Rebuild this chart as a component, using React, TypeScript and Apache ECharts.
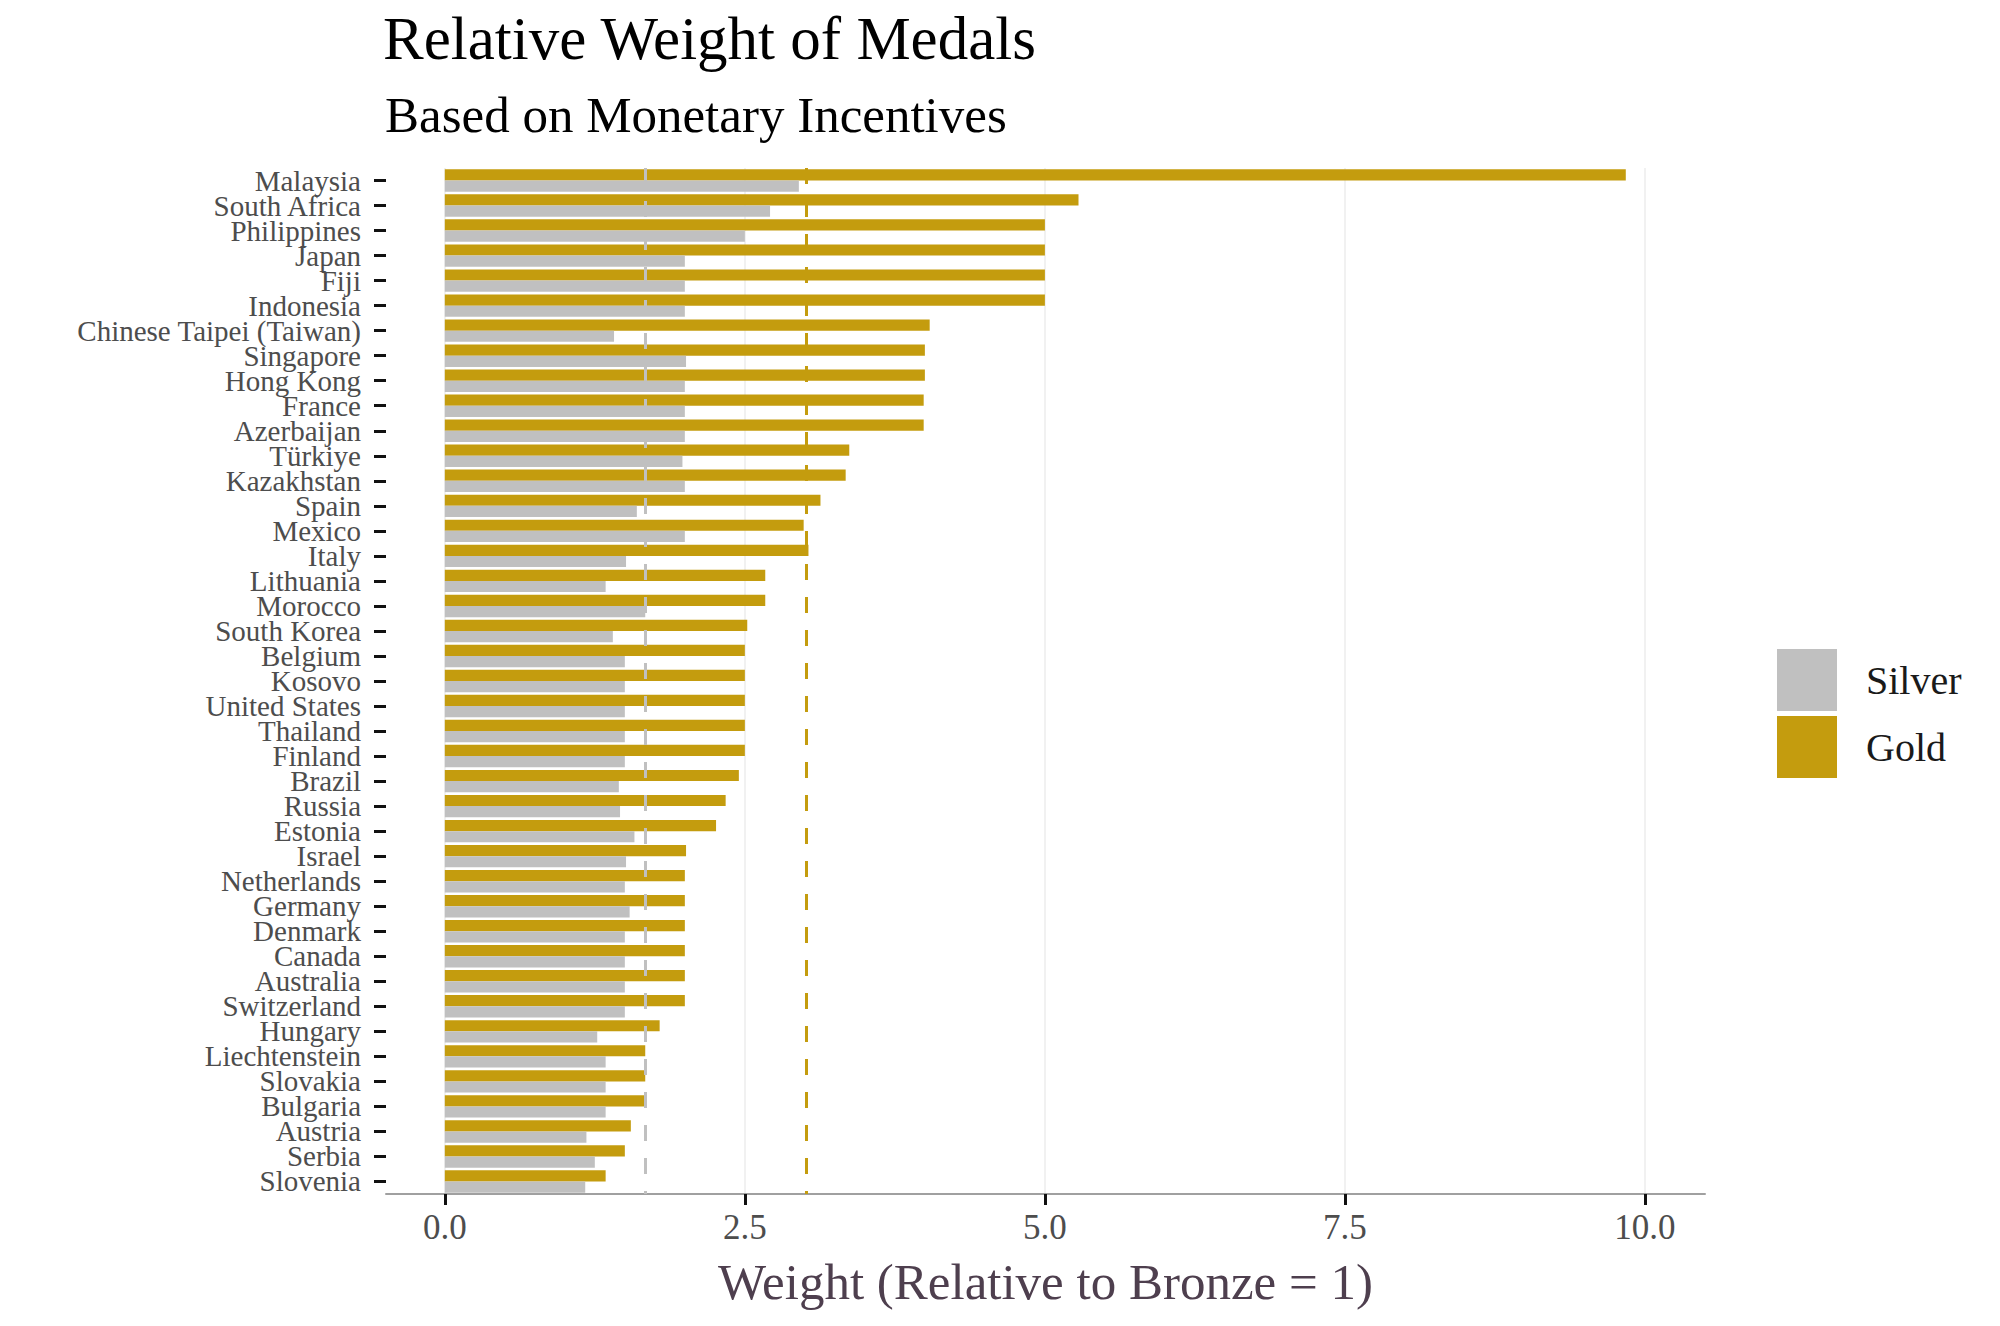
import React, { useEffect, useRef } from "react";
import * as echarts from "echarts";

const countries = [
  "Malaysia", "South Africa", "Philippines", "Japan", "Fiji", "Indonesia",
  "Chinese Taipei (Taiwan)", "Singapore", "Hong Kong", "France", "Azerbaijan",
  "Türkiye", "Kazakhstan", "Spain", "Mexico", "Italy", "Lithuania", "Morocco",
  "South Korea", "Belgium", "Kosovo", "United States", "Thailand", "Finland",
  "Brazil", "Russia", "Estonia", "Israel", "Netherlands", "Germany", "Denmark",
  "Canada", "Australia", "Switzerland", "Hungary", "Liechtenstein", "Slovakia",
  "Bulgaria", "Austria", "Serbia", "Slovenia",
];

const goldValues = [
  9.84, 5.28, 5.0, 5.0, 5.0, 5.0,
  4.04, 4.0, 4.0, 3.99, 3.99,
  3.37, 3.34, 3.13, 2.99, 3.03, 2.67, 2.67,
  2.52, 2.5, 2.5, 2.5, 2.5, 2.5,
  2.45, 2.34, 2.26, 2.01, 2.0, 2.0, 2.0,
  2.0, 2.0, 2.0, 1.79, 1.67, 1.67,
  1.67, 1.55, 1.5, 1.34,
];

const silverValues = [
  2.95, 2.71, 2.5, 2.0, 2.0, 2.0,
  1.41, 2.01, 2.0, 2.0, 2.0,
  1.98, 2.0, 1.6, 2.0, 1.51, 1.34, 1.67,
  1.4, 1.5, 1.5, 1.5, 1.5, 1.5,
  1.45, 1.46, 1.58, 1.51, 1.5, 1.54, 1.5,
  1.5, 1.5, 1.5, 1.27, 1.34, 1.34,
  1.34, 1.18, 1.25, 1.17,
];

const xTicks = [0, 2.5, 5, 7.5, 10];

const mean = (a: number[]) => a.reduce((s, v) => s + v, 0) / a.length;

const GOLD = "#c49c0e";
const SILVER = "#c0c0c0";
const FONT = "'Liberation Serif', 'Times New Roman', serif";

export default function App() {
  const ref = useRef<HTMLDivElement>(null);
  useEffect(() => {
    document.body.style.margin = "0";
    if (!ref.current) return;
    const chart = echarts.init(ref.current, null, { renderer: "svg" });
    chart.setOption({
      animation: false,
      backgroundColor: "#ffffff",
      title: [
        {
          text: "Relative Weight of Medals",
          left: 383,
          top: 8,
          padding: 0,
          textStyle: { fontFamily: FONT, fontSize: 61, fontWeight: "normal", color: "#000000" },
        },
        {
          text: "Based on Monetary Incentives",
          left: 385,
          top: 89,
          padding: 0,
          textStyle: { fontFamily: FONT, fontSize: 51, fontWeight: "normal", color: "#000000" },
        },
      ],
      legend: {
        orient: "vertical",
        left: 1777,
        top: 649,
        padding: 0,
        itemWidth: 60,
        itemHeight: 62,
        itemGap: 5,
        icon: "rect",
        data: ["Silver", "Gold"],
        textStyle: { fontFamily: FONT, fontSize: 40, color: "#1a1a1a", padding: [0, 0, 0, 24] },
      },
      grid: { left: 386, right: 295, top: 168, bottom: 132 },
      xAxis: {
        type: "value",
        min: -0.49,
        max: 10.5,
        name: "Weight (Relative to Bronze = 1)",
        nameLocation: "middle",
        nameGap: 62,
        nameTextStyle: { fontFamily: FONT, fontSize: 51, color: "#4e3f4e" },
        axisLine: { show: true, onZero: false, lineStyle: { color: "#a0a0a0", width: 2 } },
        axisTick: { show: true, customValues: xTicks, length: 11, lineStyle: { color: "#111111", width: 3 } },
        axisLabel: {
          customValues: xTicks,
          formatter: (v: number) => v.toFixed(1),
          fontFamily: FONT,
          fontSize: 35,
          color: "#4d4d4d",
          margin: 16,
        },
        splitLine: { show: true, lineStyle: { color: "#ececec", width: 1.5 } },
      },
      yAxis: {
        type: "category",
        data: countries,
        inverse: true,
        axisLine: { show: false, onZero: false },
        axisTick: { show: true, alignWithLabel: true, length: 12, lineStyle: { color: "#111111", width: 3 } },
        axisLabel: {
          interval: 0,
          margin: 25,
          fontFamily: FONT,
          fontSize: 29,
          lineHeight: 25,
          color: "#4d4d4d",
        },
        splitLine: { show: false },
      },
      series: [
        {
          name: "Gold",
          type: "bar",
          data: goldValues,
          barWidth: 11.2,
          barGap: "0%",
          itemStyle: { color: GOLD },
          markLine: {
            silent: true,
            symbol: "none",
            label: { show: false },
            lineStyle: { color: GOLD, width: 3, type: [16, 17] },
            data: [{ xAxis: mean(goldValues) }],
          },
        },
        {
          name: "Silver",
          type: "bar",
          data: silverValues,
          barWidth: 11.2,
          barGap: "0%",
          itemStyle: { color: SILVER },
          markLine: {
            silent: true,
            symbol: "none",
            label: { show: false },
            lineStyle: { color: SILVER, width: 3, type: [16, 17] },
            data: [{ xAxis: mean(silverValues) }],
          },
        },
      ],
    });
    return () => chart.dispose();
  }, []);
  return <div ref={ref} style={{ width: 2000, height: 1326 }} />;
}
